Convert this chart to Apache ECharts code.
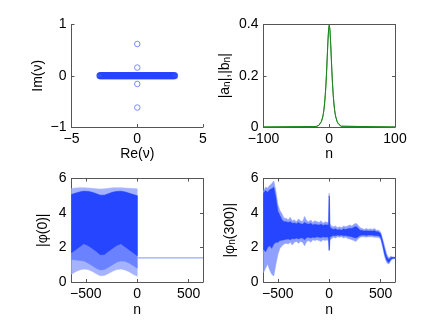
<!DOCTYPE html>
<html>
<head>
<meta charset="utf-8">
<script src="https://cdn.jsdelivr.net/npm/echarts@6/dist/echarts.min.js"></script>
<style>
html, body { margin: 0; padding: 0; background: #fff; }
#chart { width: 436px; height: 328px; }
</style>
</head>
<body>
<div id="chart"></div>
<script>
// top left: spectrum nu (re, im)
const bandRe = [-2.85, -2.8, -2.75, -2.7, -2.65, -2.6, -2.55, -2.5, -2.45, -2.4,
  -2.35, -2.3, -2.25, -2.2, -2.15, -2.1, -2.05, -2.0, -1.95, -1.9,
  -1.85, -1.8, -1.75, -1.7, -1.65, -1.6, -1.55, -1.5, -1.45, -1.4,
  -1.35, -1.3, -1.25, -1.2, -1.15, -1.1, -1.05, -1.0, -0.95, -0.9,
  -0.85, -0.8, -0.75, -0.7, -0.65, -0.6, -0.55, -0.5, -0.45, -0.4,
  -0.35, -0.3, -0.25, -0.2, -0.15, -0.1, -0.05, 0.0, 0.05, 0.1,
  0.15, 0.2, 0.25, 0.3, 0.35, 0.4, 0.45, 0.5, 0.55, 0.6,
  0.65, 0.7, 0.75, 0.8, 0.85, 0.9, 0.95, 1.0, 1.05, 1.1,
  1.15, 1.2, 1.25, 1.3, 1.35, 1.4, 1.45, 1.5, 1.55, 1.6,
  1.65, 1.7, 1.75, 1.8, 1.85, 1.9, 1.95, 2.0, 2.05, 2.1,
  2.15, 2.2, 2.25, 2.3, 2.35, 2.4, 2.45, 2.5, 2.55, 2.6,
  2.65, 2.7, 2.75, 2.8, 2.85];
const bandIm = [0, 0, 0, 0, 0, 0, 0, 0, 0, 0,
  0, 0, 0, 0, 0, 0, 0, 0, 0, 0,
  0, 0, 0, 0, 0, 0, 0, 0, 0, 0,
  0, 0, 0, 0, 0, 0, 0, 0, 0, 0,
  0, 0, 0, 0, 0, 0, 0, 0, 0, 0,
  0, 0, 0, 0, 0, 0, 0, 0, 0, 0,
  0, 0, 0, 0, 0, 0, 0, 0, 0, 0,
  0, 0, 0, 0, 0, 0, 0, 0, 0, 0,
  0, 0, 0, 0, 0, 0, 0, 0, 0, 0,
  0, 0, 0, 0, 0, 0, 0, 0, 0, 0,
  0, 0, 0, 0, 0, 0, 0, 0, 0, 0,
  0, 0, 0, 0, 0];
const boundRe = [0, 0, 0, 0];
const boundIm = [0.62, 0.16, -0.16, -0.62];

// top right: |a_n|, |b_n|
const abN = [-100, -20, -18, -16, -14, -12, -10, -9, -8, -7, -6, -5, -4, -3, -2, -1, 0,
  1, 2, 3, 4, 5, 6, 7, 8, 9, 10, 12, 14, 16, 18, 20, 100];
const aMag = [0, 0.002, 0.003, 0.006, 0.012, 0.021, 0.039, 0.052, 0.070, 0.095, 0.127, 0.168, 0.218, 0.277, 0.336, 0.382, 0.400,
  0.382, 0.336, 0.277, 0.218, 0.168, 0.127, 0.095, 0.070, 0.052, 0.039, 0.021, 0.012, 0.006, 0.003, 0.002, 0];
const bMag = [0, 0.002, 0.003, 0.006, 0.012, 0.021, 0.038, 0.051, 0.069, 0.094, 0.126, 0.166, 0.216, 0.275, 0.333, 0.378, 0.395,
  0.378, 0.333, 0.275, 0.216, 0.166, 0.126, 0.094, 0.069, 0.051, 0.038, 0.021, 0.012, 0.006, 0.003, 0.002, 0];

// bottom left: |phi(0)|, envelopes of the dense oscillation
const phi0N = [-640, -600, -560, -520, -480, -440, -400, -360, -320, -280, -240, -200, -160, -120, -80, -40, 0];
const phi0LightHi = [5.42, 5.45, 5.47, 5.47, 5.45, 5.43, 5.41, 5.39, 5.4, 5.43, 5.46, 5.47, 5.47, 5.45, 5.43, 5.42, 5.4];
const phi0DarkHi = [5.07, 5.15, 5.22, 5.26, 5.25, 5.2, 5.12, 5.03, 5.03, 5.12, 5.2, 5.25, 5.26, 5.22, 5.15, 5.07, 5.0];
const phi0DarkLo = [1.7, 1.87, 2.05, 2.22, 2.12, 1.95, 1.78, 1.58, 1.6, 1.78, 1.95, 2.12, 2.22, 2.05, 1.87, 1.7, 1.52];
const phi0MidLo = [1.3, 1.28, 1.25, 1.22, 1.1, 0.95, 0.8, 0.7, 0.72, 0.85, 1.0, 1.15, 1.22, 1.2, 1.1, 0.95, 0.8];
const phi0LightLo = [0.45, 0.6, 0.7, 0.75, 0.72, 0.62, 0.48, 0.36, 0.38, 0.5, 0.62, 0.72, 0.75, 0.7, 0.6, 0.45, 0.33];
const phi0TailN = [0, 640];
const phi0Tail = [1.4, 1.4];

// bottom right: |phi_n(300)|, envelopes of the noisy profile
const phi300N = [-640, -620, -600, -580, -560, -540, -520,
  -500, -480, -460, -440,
  -420, -400, -380, -360, -340, -320, -300, -280, -260, -240,
  -220, -200, -180, -160, -140, -120, -100, -80, -60, -40, -20,
  -6, -2, 2, 6,
  20, 40, 60, 80, 100, 120, 140, 160, 180, 200, 220, 240,
  260, 280, 300, 320, 340, 360, 380, 400, 420, 440, 460, 480,
  500, 520, 540, 560, 580, 600, 620, 640];
const phi300LightHi = [5.3, 5.5, 5.45, 5.6, 5.7, 5.85, 5.3,
  4.5, 4.15, 3.95, 3.7,
  3.7, 3.6, 3.75, 3.55, 3.6, 3.5, 3.65, 3.55, 3.5, 3.8,
  3.55, 3.5, 3.6, 3.45, 3.55, 3.5, 3.45, 3.55, 3.4, 3.5, 3.45,
  3.5, 5.15, 5.0, 3.4,
  3.25, 3.2, 3.25, 3.15, 3.2, 3.15, 3.25, 3.2, 3.25, 3.3, 3.25, 3.35,
  3.4, 3.3, 3.15, 3.1, 3.05, 3.1, 3.05, 3.08, 3.05, 3.1, 3.0, 3.0,
  2.9, 2.5, 2.05, 1.6, 1.4, 1.5, 1.45, 1.45];
const phi300DarkHi = [5.15, 5.3, 5.2, 5.35, 5.4, 5.5, 4.9,
  4.1, 3.85, 3.6, 3.5,
  3.5, 3.45, 3.5, 3.4, 3.42, 3.38, 3.45, 3.38, 3.35, 3.45,
  3.38, 3.35, 3.4, 3.3, 3.35, 3.32, 3.3, 3.35, 3.28, 3.32, 3.3,
  3.3, 5.0, 4.85, 3.2,
  3.1, 3.05, 3.08, 3.02, 3.05, 3.0, 3.08, 3.05, 3.08, 3.12, 3.1, 3.18,
  3.22, 3.12, 3.0, 2.98, 2.95, 2.97, 2.95, 2.96, 2.95, 2.97, 2.92, 2.9,
  2.8, 2.35, 1.85, 1.45, 1.3, 1.42, 1.42, 1.42];
const phi300DarkLo = [1.9, 1.75, 2.0, 2.1, 1.95, 2.2, 2.3,
  2.3, 2.4, 2.42, 2.45,
  2.48, 2.5, 2.45, 2.52, 2.5, 2.55, 2.5, 2.55, 2.55, 2.45,
  2.58, 2.6, 2.55, 2.6, 2.58, 2.62, 2.6, 2.58, 2.62, 2.6, 2.62,
  2.55, 1.85, 1.95, 2.6,
  2.65, 2.7, 2.68, 2.72, 2.7, 2.72, 2.68, 2.7, 2.66, 2.65, 2.62, 2.58,
  2.55, 2.62, 2.7, 2.72, 2.72, 2.7, 2.72, 2.72, 2.72, 2.7, 2.7, 2.68,
  2.6, 2.15, 1.6, 1.25, 1.12, 1.32, 1.38, 1.38];
const phi300LightLo = [0.55, 0.8, 1.05, 0.7, 0.45, 0.35, 1.0,
  1.6, 1.95, 2.1, 2.2,
  2.25, 2.2, 2.3, 2.15, 2.3, 2.35, 2.25, 2.35, 2.3, 2.1,
  2.35, 2.4, 2.3, 2.45, 2.4, 2.45, 2.4, 2.35, 2.45, 2.4, 2.45,
  2.35, 1.8, 1.85, 2.45,
  2.5, 2.6, 2.55, 2.62, 2.6, 2.62, 2.55, 2.6, 2.52, 2.5, 2.45, 2.4,
  2.35, 2.5, 2.6, 2.62, 2.62, 2.6, 2.63, 2.62, 2.62, 2.6, 2.6, 2.58,
  2.5, 2.0, 1.45, 1.1, 1.05, 1.25, 1.35, 1.35];

const FONT = "Liberation Sans";
const AXIS_COLOR = "#555555";
const BLUE_DARK = "#2545ff";
const BLUE_MID = "#6a82ff";
const BLUE_LIGHT = "#a5b3ff";

const chart = echarts.init(document.getElementById("chart"), null, { renderer: "canvas" });

function fmt(v) {
  return String(v).replace("-", "\u2212");
}

function pairs(xs, ys) {
  return xs.map((x, i) => [x, ys[i]]);
}

const subRich = {
  s: { fontSize: 10, fontFamily: FONT, color: "#000", lineHeight: 10, verticalAlign: "bottom", padding: [7, 0, 0, 0] }
};

function axis(gridIndex, position, min, max, interval, ticks, showLabel, name, nameGap) {
  const ax = {
    type: "value",
    gridIndex: gridIndex,
    position: position,
    min: min,
    max: max,
    axisLine: { show: true, onZero: false, lineStyle: { color: AXIS_COLOR, width: 1 } },
    axisTick: { show: true, inside: true, length: 3, lineStyle: { color: AXIS_COLOR, width: 1 } },
    splitLine: { show: false },
    axisLabel: { show: showLabel, color: "#000", fontSize: 14, fontFamily: FONT, margin: 5, formatter: fmt },
  };
  if (interval != null) ax.interval = interval;
  if (ticks) {
    ax.axisTick.customValues = ticks;
    ax.axisLabel.customValues = ticks;
  }
  if (name) {
    ax.name = name;
    ax.nameLocation = "middle";
    ax.nameGap = nameGap;
    ax.nameTextStyle = {
      color: "#000", fontSize: 14, fontFamily: FONT, lineHeight: 14,
      verticalAlign: "middle", rich: subRich
    };
  }
  return ax;
}

// filled band between lo and hi, one polygon through the axis scales
function band(idx, xs, lo, hi, color) {
  return {
    type: "custom", xAxisIndex: idx, yAxisIndex: idx, silent: true,
    encode: { x: 0, y: [1, 2] },
    data: xs.map((x, i) => [x, lo[i], hi[i]]),
    renderItem: function (params, api) {
      if (params.dataIndexInside !== 0) return null;
      const n = params.dataInsideLength;
      const top = [];
      const bottom = [];
      for (let j = 0; j < n; j++) {
        top.push(api.coord([api.value(0, j), api.value(2, j)]));
        bottom.push(api.coord([api.value(0, j), api.value(1, j)]));
      }
      const pts = top.concat(bottom.reverse());
      return {
        type: "polygon",
        shape: { points: pts },
        style: { fill: color, stroke: color, lineWidth: 0.5 }
      };
    }
  };
}

const nTicks = [-500, 0, 500];

const option = {
  animation: false,
  backgroundColor: "#ffffff",
  grid: [
    { left: 71.5, top: 24.5, width: 131.5, height: 102.5, outerBoundsMode: "none" },
    { left: 263.5, top: 24.5, width: 131.5, height: 102.5, outerBoundsMode: "none" },
    { left: 71.5, top: 178.5, width: 131.5, height: 103.5, outerBoundsMode: "none" },
    { left: 263.5, top: 178.5, width: 131.5, height: 103.5, outerBoundsMode: "none" }
  ],
  xAxis: [
    axis(0, "bottom", -5, 5, 5, null, true, "Re(\u03bd)", 27),
    axis(1, "bottom", -100, 100, 100, null, true, "n", 27),
    axis(2, "bottom", -640, 640, null, nTicks, true, "n", 28),
    axis(3, "bottom", -640, 640, null, nTicks, true, "n", 28),
    axis(1, "top", -100, 100, 100, null, false),
    axis(2, "top", -640, 640, null, nTicks, false),
    axis(3, "top", -640, 640, null, nTicks, false)
  ],
  yAxis: [
    axis(0, "left", -1, 1, 1, null, true, "Im(\u03bd)", 33),
    axis(1, "left", 0, 0.4, 0.2, null, true, "|a{s|n}|,|b{s|n}|", 38),
    axis(2, "left", 0, 6, 2, null, true, "|\u03c6(0)|", 28),
    axis(3, "left", 0, 6, 2, null, true, "|\u03c6{s|n}(300)|", 33),
    axis(1, "right", 0, 0.4, 0.2, null, false),
    axis(2, "right", 0, 6, 2, null, false),
    axis(3, "right", 0, 6, 2, null, false)
  ],
  series: [
    {
      type: "scatter", xAxisIndex: 0, yAxisIndex: 0, silent: true,
      symbol: "circle", symbolSize: 5.5,
      itemStyle: { color: "rgba(0,0,0,0)", borderColor: "#2645ff", borderWidth: 1.3 },
      data: pairs(bandRe, bandIm)
    },
    {
      type: "scatter", xAxisIndex: 0, yAxisIndex: 0, silent: true,
      symbol: "circle", symbolSize: 5.5,
      itemStyle: { color: "rgba(0,0,0,0)", borderColor: "#5a72ff", borderWidth: 1 },
      data: pairs(boundRe, boundIm)
    },
    {
      type: "line", xAxisIndex: 1, yAxisIndex: 1, silent: true, symbol: "none",
      lineStyle: { color: "#3c9c3c", width: 1 }, data: pairs(abN, bMag)
    },
    {
      type: "line", xAxisIndex: 1, yAxisIndex: 1, silent: true, symbol: "none",
      lineStyle: { color: "#1e861e", width: 1 }, data: pairs(abN, aMag)
    },
    band(2, phi0N, phi0LightLo, phi0LightHi, BLUE_LIGHT),
    band(2, phi0N, phi0MidLo, phi0DarkHi, BLUE_MID),
    band(2, phi0N, phi0DarkLo, phi0DarkHi, BLUE_DARK),
    {
      type: "line", xAxisIndex: 2, yAxisIndex: 2, silent: true, symbol: "none",
      lineStyle: { color: "#97a7ff", width: 1.2 }, data: pairs(phi0TailN, phi0Tail)
    },
    band(3, phi300N, phi300LightLo, phi300LightHi, "#8fa0ff"),
    band(3, phi300N, phi300DarkLo, phi300DarkHi, BLUE_DARK)
  ]
};

chart.setOption(option);
</script>
</body>
</html>
